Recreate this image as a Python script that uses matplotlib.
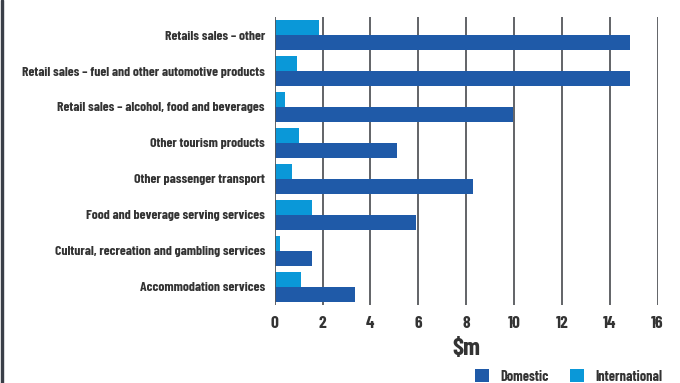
import matplotlib
matplotlib.use("Agg")
import matplotlib.pyplot as plt
from matplotlib.patches import Rectangle
import numpy as np

categories = [
    "Retails sales – other",
    "Retail sales – fuel and other automotive products",
    "Retail sales – alcohol, food and beverages",
    "Other tourism products",
    "Other passenger transport",
    "Food and beverage serving services",
    "Cultural, recreation and gambling services",
    "Accommodation services",
]
domestic = [14.84, 14.84, 9.95, 5.11, 8.28, 5.90, 1.56, 3.36]
international = [1.85, 0.92, 0.43, 1.01, 0.72, 1.56, 0.22, 1.10]
x_ticks = [0, 2, 4, 6, 8, 10, 12, 14, 16]

DOM_COLOR = "#1f5aa8"
INT_COLOR = "#0a98d8"
TEXT_COLOR = "#333333"
GRID_COLOR = "#55575c"
W = 700

plt.rcParams["font.family"] = ["Barlow Condensed", "DejaVu Sans"]

fig = plt.figure(figsize=(6.8, 3.83), dpi=100)
ax = fig.add_axes([0.404, 0.2037, 0.563, 0.7519])

y = np.arange(len(categories))
h = 0.417
ax.barh(y - h / 2, international, height=h, color=INT_COLOR, zorder=3, label="International")
ax.barh(y + h / 2, domestic, height=h, color=DOM_COLOR, zorder=3, label="Domestic")

ax.set_ylim(len(categories) - 0.5, -0.5)
ax.set_xlim(0, 16)
ax.set_xticks(x_ticks)
ax.set_xticklabels([str(t) for t in x_ticks], fontsize=12.5, color=TEXT_COLOR, fontweight=W)
ax.set_yticks(y)
ax.set_yticklabels(categories, fontsize=9.9, color=TEXT_COLOR, fontweight=W)
ax.tick_params(length=0)
ax.tick_params(axis="x", pad=8)
ax.tick_params(axis="y", pad=7)

for t in x_ticks[1:]:
    ax.axvline(t, color=GRID_COLOR, lw=1.3, zorder=1)
ax.axvline(0, color=GRID_COLOR, lw=1.3, zorder=4)

for s in ax.spines.values():
    s.set_visible(False)

ax.set_xlabel("$m", fontsize=18, color=TEXT_COLOR, fontweight=W, labelpad=5)

# legend along the bottom edge
handles, labels = ax.get_legend_handles_labels()
leg = fig.legend(handles[::-1], labels[::-1], loc="lower right",
                 bbox_to_anchor=(0.993, -0.035), ncol=2, frameon=False,
                 prop={"size": 10.3, "weight": W}, handlelength=0.95, handleheight=0.95,
                 handletextpad=0.8, columnspacing=1.5)
for txt in leg.get_texts():
    txt.set_color(TEXT_COLOR)

# dark border on the left edge of the panel
fig.patches.append(Rectangle((0.0015, 0), 0.003, 1, transform=fig.transFigure,
                             color="#3a3f48", zorder=10))

fig.savefig("out.png", dpi=100)
